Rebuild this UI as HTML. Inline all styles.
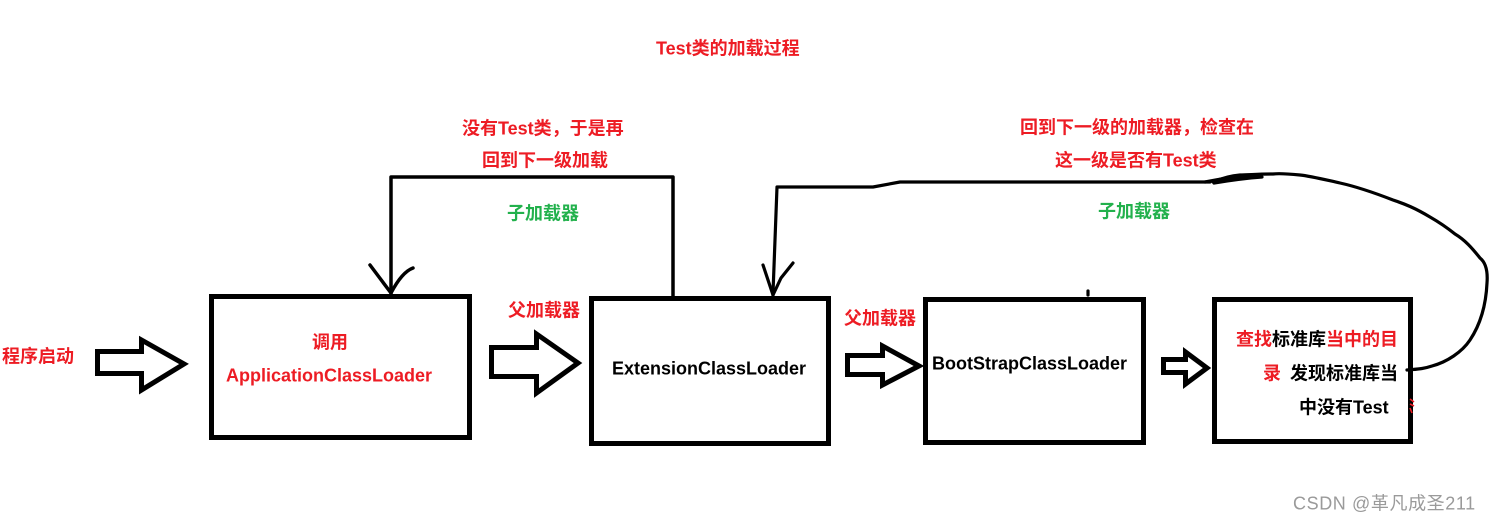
<!DOCTYPE html>
<html>
<head>
<meta charset="utf-8">
<style>
html,body{margin:0;padding:0;background:#fff;}
svg{display:block;}
text{font-family:"Liberation Sans","Noto Sans CJK SC",sans-serif;font-size:18px;font-weight:bold;}
.r{fill:#ed1c24;}
.g{fill:#22b14c;}
.k{fill:#000;}
</style>
</head>
<body>
<svg width="1495" height="523" viewBox="0 0 1495 523" xmlns="http://www.w3.org/2000/svg">
<rect x="0" y="0" width="1495" height="523" fill="#fff"/>

<!-- boxes -->
<g fill="none" stroke="#000" stroke-width="5">
  <rect x="211.5" y="296.5" width="258" height="141"/>
  <rect x="591.5" y="298.5" width="237" height="145"/>
  <rect x="925.5" y="299.5" width="218" height="143"/>
  <rect x="1214.5" y="299.5" width="196" height="142"/>
</g>

<!-- hollow block arrows -->
<g fill="#fff" stroke="#000" stroke-width="5" stroke-linejoin="miter">
  <polygon points="97.5,351.5 141.5,351.5 141.5,340 184,364 141.5,390 141.5,373.5 97.5,373.5"/>
  <polygon points="491.5,347.5 536.5,347.5 536.5,334 578,363 536.5,393 536.5,376.5 491.5,376.5"/>
  <polygon points="847.5,355.5 882.5,355.5 882.5,346 919,366 882.5,385 882.5,374.5 847.5,374.5"/>
  <polygon points="1163.5,359.5 1185.5,359.5 1185.5,352 1207,368 1185.5,384 1185.5,372.5 1163.5,372.5"/>
</g>

<!-- left connector -->
<g fill="none" stroke="#000" stroke-width="3.5" stroke-linecap="round" stroke-linejoin="round">
  <path d="M391,293 L391,177 L673,177 L673,296"/>
  <path d="M370,265 L391,293"/>
  <path d="M413,268 Q402,272 391,293"/>
</g>

<!-- right connector -->
<g fill="none" stroke="#000" stroke-width="3.2" stroke-linecap="round" stroke-linejoin="round">
  <path d="M1210,182 L900,182 L873,187 L777,187 L773,293"/>
  <path d="M763,265 L773,295"/>
  <path d="M793,263 L781,278 L773,295"/>
  <path d="M1205,182 C1225,178 1240,176 1258,175"/>
  <path d="M1214,183 C1232,180 1248,178 1262,177"/>
  <path d="M1407,370 C1418,369 1423,369 1432,366 C1447,362 1462,352 1470,340 C1480,325 1486,305 1487,283 C1488,270 1485,262 1480,258 C1472,248 1465,240 1455,234 C1445,226 1437,221 1430,217 C1415,208 1405,204 1393,200 C1375,193 1358,187 1340,183 C1322,179 1310,176 1300,175 C1290,174 1280,173 1273,174 C1258,174 1248,175 1240,175 C1228,176 1220,179 1213,182"/>
  <path d="M1088,291 L1088,295"/>
</g>

<!-- small red mark at box4 right edge -->
<g stroke="#ed1c24" stroke-width="1.6" fill="none">
  <path d="M1410,399 L1414,402"/>
  <path d="M1410,404 L1414,406"/>
  <path d="M1410,408 L1412,413"/>
</g>

<!-- labels -->
<text class="r" x="656" y="54.5">Test类的加载过程</text>
<text class="r" x="462" y="134.5">没有Test类，于是再</text>
<text class="r" x="482" y="166.5">回到下一级加载</text>
<text class="g" x="507" y="219.5">子加载器</text>

<text class="r" x="1020" y="133.5">回到下一级的加载器，检查在</text>
<text class="r" x="1055" y="166.5">这一级是否有Test类</text>
<text class="g" x="1098" y="217.5">子加载器</text>

<text class="r" x="2" y="362.5">程序启动</text>
<text class="r" x="312" y="348.5">调用</text>
<text class="r" x="226" y="381.5">ApplicationClassLoader</text>

<text class="r" x="508" y="316.5">父加载器</text>
<text class="k" x="612" y="374.5">ExtensionClassLoader</text>

<text class="r" x="844" y="324.5">父加载器</text>
<text class="k" x="932" y="369.5">BootStrapClassLoader</text>

<text x="1236" y="345.5"><tspan class="r">查找</tspan><tspan class="k">标准库</tspan><tspan class="r">当中的目</tspan></text>
<text class="r" x="1263" y="379.5">录</text>
<text class="k" x="1290" y="379.5">发现标准库当</text>
<text class="k" x="1299" y="413.5">中没有Test</text>

<text x="1293" y="509.5" style="font-weight:normal;fill:#9a9a9a;letter-spacing:0.6px;">CSDN @革凡成圣211</text>
</svg>
</body>
</html>
